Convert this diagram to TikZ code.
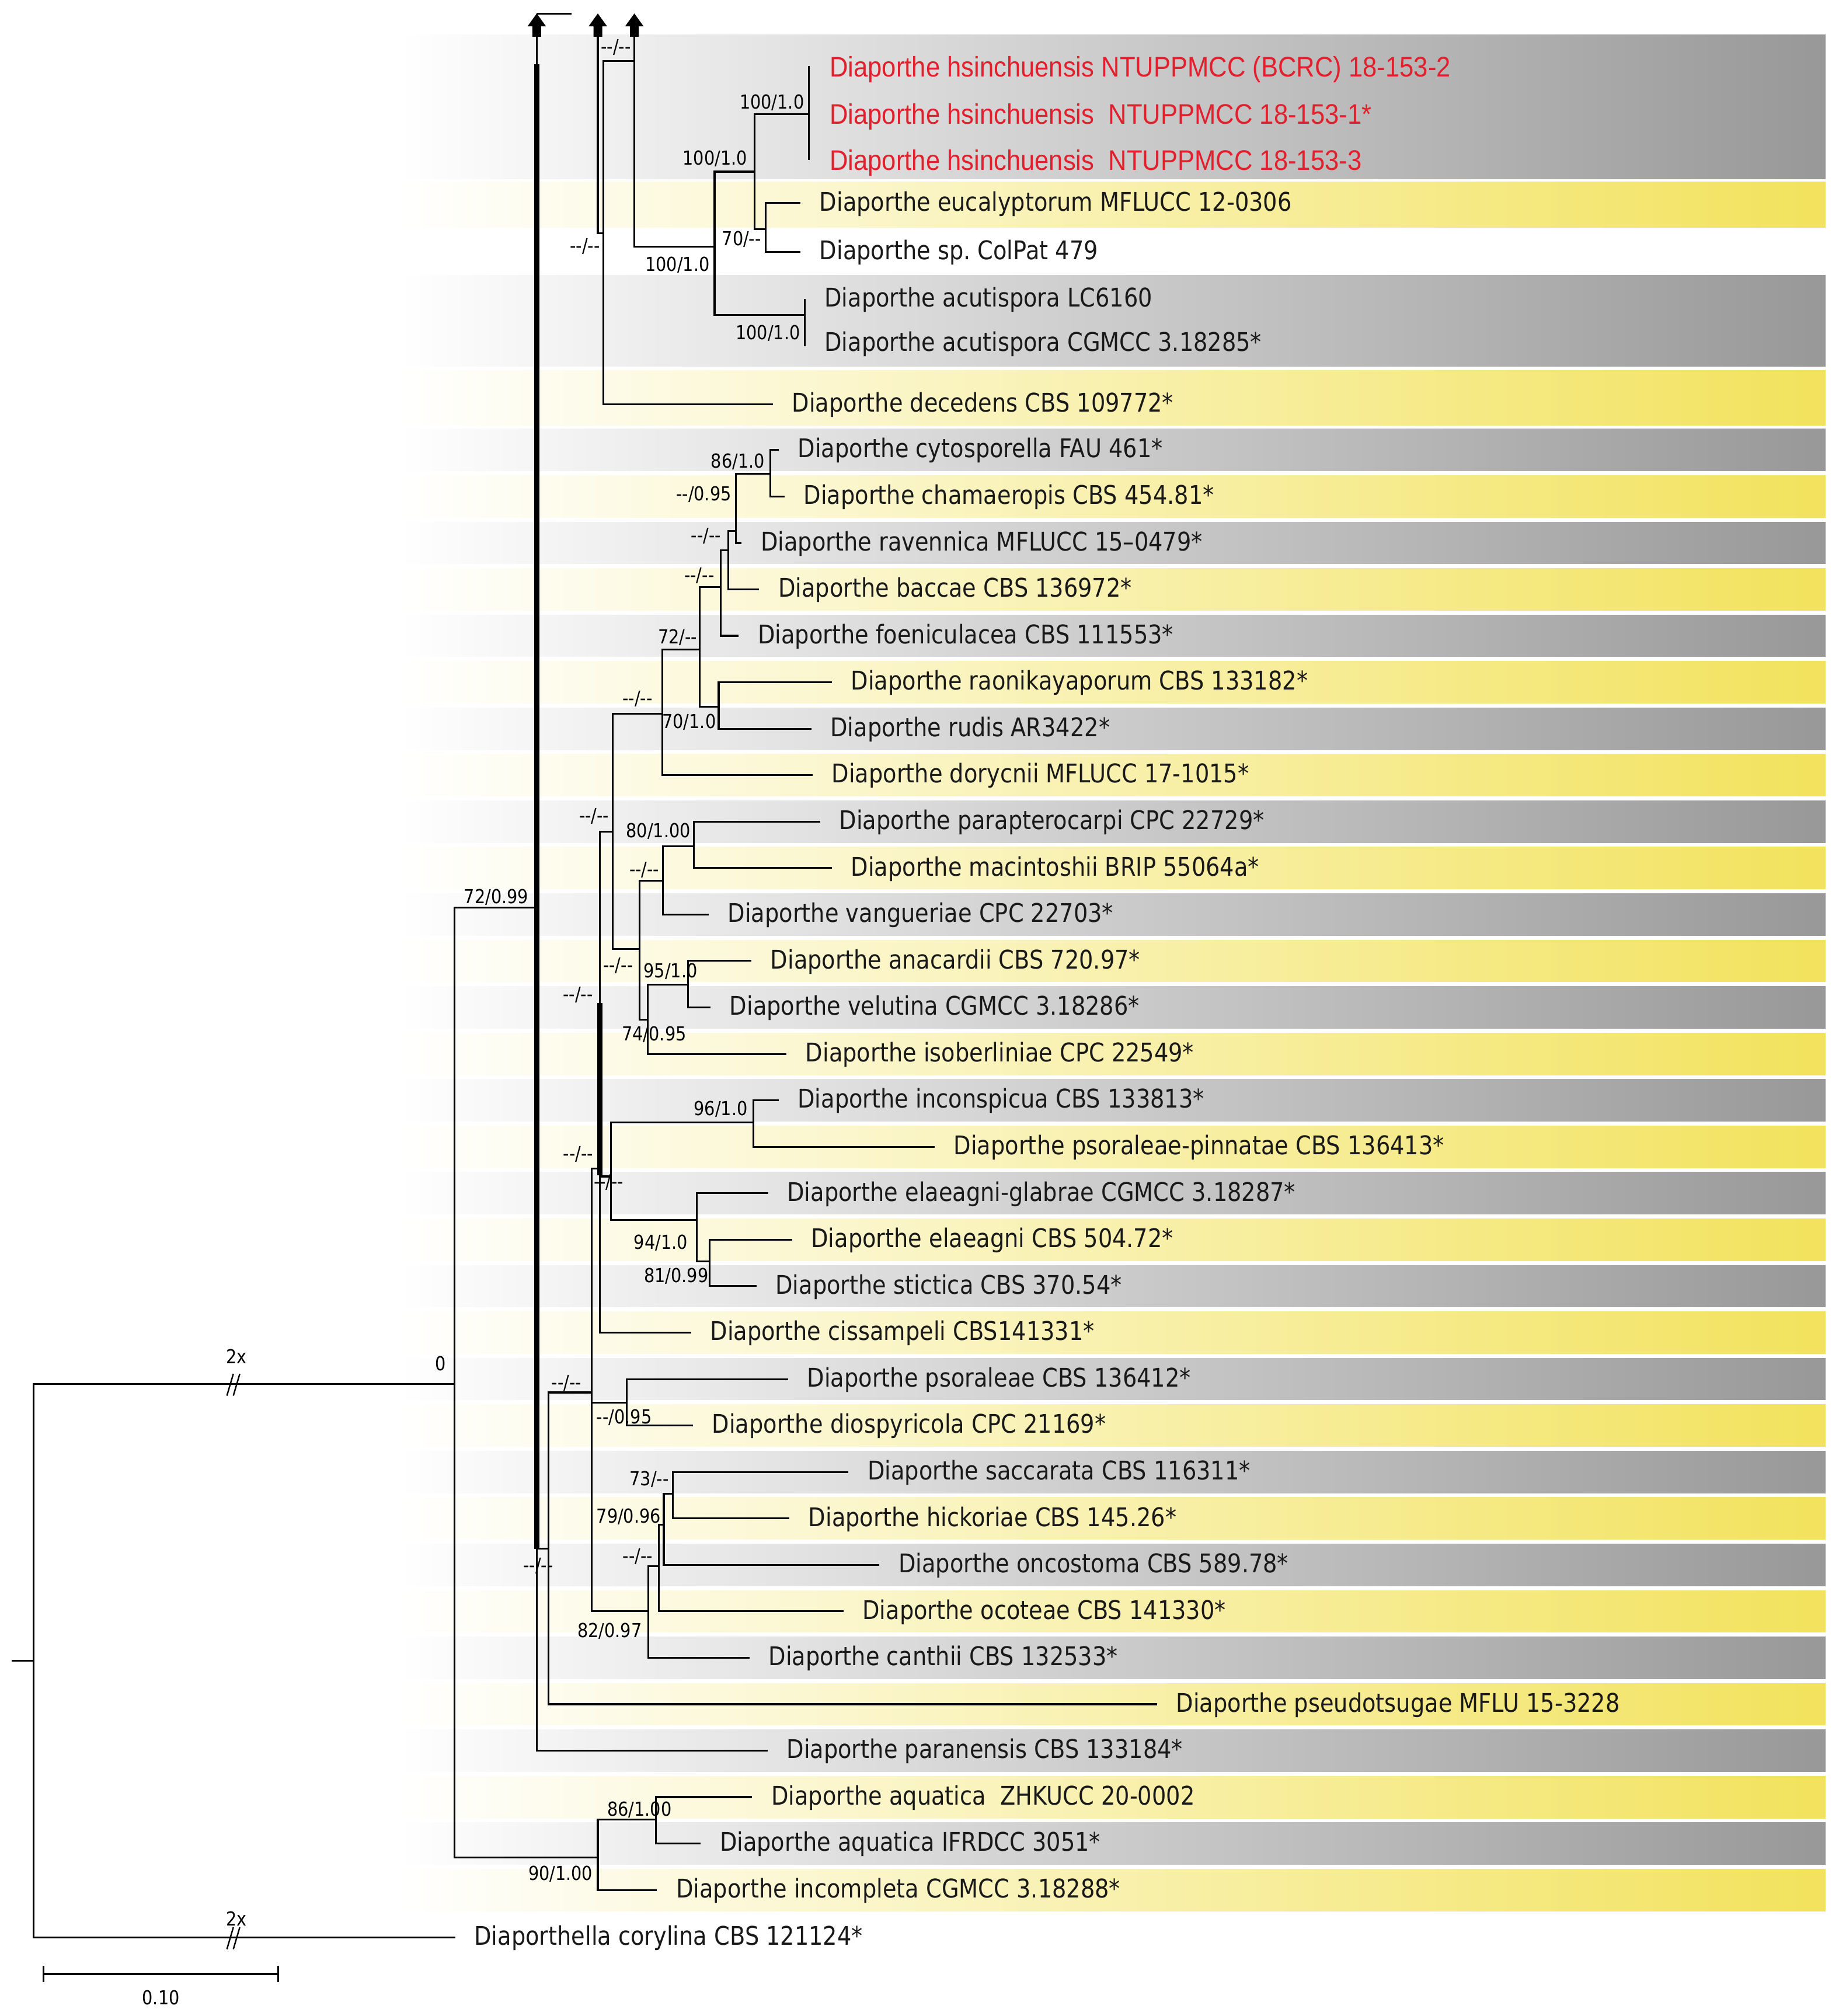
\documentclass[tikz,border=0pt]{standalone}
\usepackage{fontspec}
\newfontfamily\lblfont[FakeStretch=0.87]{DejaVu Sans}
\newfontfamily\supfont[FakeStretch=0.87]{DejaVu Sans}
\newfontfamily\redfont[FakeStretch=0.9]{Liberation Sans}
\newcommand{\dpair}{-{}-}
\definecolor{bandgray}{RGB}{152,152,152}
\definecolor{bandyel}{RGB}{242,226,92}
\definecolor{hsred}{RGB}{226,32,45}
\newcommand\bandG[2]{\shade[left color=white,right color=bandgray] (310,#1) rectangle (1420,#2);}
\newcommand\bandY[2]{\shade[left color=white,right color=bandyel] (310,#1) rectangle (1420,#2);}
\newcommand\upblock[1]{\fill (#1) -- ++(7.2,10) -- ++(-3.8,0) -- ++(0,8) -- ++(-6.8,0) -- ++(0,-8) -- ++(-3.8,0) -- cycle;}
\newcommand\leaf[4]{\coordinate (t#1) at (#2,#3); \path (t#1) ++(14.5,6) node[lbl] (l#1) {#4};}
\frenchspacing
\begin{document}
\begin{tikzpicture}[x=0.5pt,y=-0.5pt,
  br/.style={line width=0.7pt},
  thk/.style={line width=1.9pt},
  lbl/.style={font=\lblfont\fontsize{10}{12}\selectfont, text=black!90, anchor=base west, inner sep=0pt},
  hsl/.style={font=\redfont\fontsize{11}{13}\selectfont, text=hsred, anchor=base west, inner sep=0pt},
  sup/.style={font=\supfont\fontsize{7.5}{9}\selectfont, anchor=base, inner sep=0pt}]
\useasboundingbox (0,0) rectangle (1430,1568);
\fill[white] (0,0) rectangle (1430,1568);
% ---------------- bands
\bandG{27}{139}
\bandY{141.5}{177}
\bandG{214}{285}
\bandY{288}{331}
\foreach \i in {9,...,40}{
  \pgfmathsetmacro\ya{350+(\i-9)*36.13-16.3}
  \pgfmathsetmacro\yb{\ya+32.6}
  \ifodd\i\relax \bandG{\ya}{\yb}\else \bandY{\ya}{\yb}\fi
}
% ---------------- internal nodes
\coordinate (root) at (26,1291.5);
\coordinate (rstub) at (9,1291.5);
\coordinate (M) at (353.5,1076.5);
\coordinate (Sp) at (417.5,706);
\coordinate (spinetop) at (417.5,50);
\coordinate (spthk) at (417.5,1204.5);
\coordinate (P) at (426.7,1204.5);
\coordinate (A) at (460.3,1083);
\coordinate (B) at (466.5,909);
\coordinate (Bt1) at (466.5,780);
\coordinate (Bt2) at (466.5,914);
\coordinate (C) at (476.5,647);
\coordinate (N7) at (515.3,555);
\coordinate (N5) at (544.3,505.3);
\coordinate (N4) at (560.6,456.4);
\coordinate (N3) at (566.3,428.1);
\coordinate (N2) at (572.4,413.1);
\coordinate (N1) at (599.3,368.4);
\coordinate (N6) at (559,549.7);
\coordinate (D) at (497.4,738);
\coordinate (E) at (515.6,685);
\coordinate (F) at (539.8,658);
\coordinate (G) at (503.8,793);
\coordinate (H) at (535.3,766);
\coordinate (I) at (475.4,915);
\coordinate (K) at (586,873);
\coordinate (J) at (542,949);
\coordinate (L) at (552,981);
\coordinate (Q) at (487.3,1091);
\coordinate (R) at (504.2,1253);
\coordinate (Sx) at (512.5,1218);
\coordinate (T) at (516.3,1186);
\coordinate (U) at (523.2,1162);
\coordinate (Z) at (465,1444.5);
\coordinate (Y) at (510,1415);
% top part
\coordinate (ar1) at (417.5,10.5);
\coordinate (ar2) at (465,10.5);
\coordinate (ar3) at (493.4,10.5);
\coordinate (ar1s) at (417.5,28);
\coordinate (X2) at (465,28);
\coordinate (X3) at (493.4,28);
\coordinate (topend) at (444.4,10.5);
\coordinate (Dc) at (469.1,181.5);
\coordinate (Dctop) at (493.4,47.6);
\coordinate (V) at (555.8,191.9);
\coordinate (W) at (586.9,133.5);
\coordinate (X) at (595.4,178.3);
\coordinate (hsb) at (629.3,88.7);
\coordinate (hsb1) at (629.3,51.5);
\coordinate (hsb2) at (629.3,124.5);
\coordinate (acb) at (626,245.1);
\coordinate (acb1) at (626,232.6);
\coordinate (acb2) at (626,269.1);
% ---------------- leaves
\path (hsb1) ++(15.7,8) node[hsl] (l1) {Diaporthe hsinchuensis NTUPPMCC (BCRC) 18-153-2};
\path (hsb) ++(15.7,8) node[hsl] (l2) {Diaporthe hsinchuensis\ \ NTUPPMCC 18-153-1*};
\path (hsb2) ++(15.7,8) node[hsl] (l3) {Diaporthe hsinchuensis\ \ NTUPPMCC 18-153-3};
\leaf{4}{622.6}{158}{Diaporthe eucalyptorum MFLUCC 12-0306}
\leaf{5}{622.6}{196}{Diaporthe sp. ColPat 479}
\path (acb1) ++(15,6) node[lbl] (l6) {Diaporthe acutispora LC6160};
\path (acb2) ++(15,4) node[lbl] (l7) {Diaporthe acutispora CGMCC 3.18285*};
\leaf{8}{601.2}{314.5}{Diaporthe decedens CBS 109772*}
\leaf{9}{605.7}{350}{Diaporthe cytosporella FAU 461*}
\leaf{10}{610.2}{386.1}{Diaporthe chamaeropis CBS 454.81*}
\leaf{11}{576.9}{422.3}{Diaporthe ravennica MFLUCC 15–0479*}
\leaf{12}{590.5}{458.4}{Diaporthe baccae CBS 136972*}
\leaf{13}{574.6}{494.5}{Diaporthe foeniculacea CBS 111553*}
\leaf{14}{647}{530.7}{Diaporthe raonikayaporum CBS 133182*}
\leaf{15}{631}{566.8}{Diaporthe rudis AR3422*}
\leaf{16}{632}{602.9}{Diaporthe dorycnii MFLUCC 17-1015*}
\leaf{17}{638}{639}{Diaporthe parapterocarpi CPC 22729*}
\leaf{18}{647}{675.2}{Diaporthe macintoshii BRIP 55064a*}
\leaf{19}{551.2}{711.3}{Diaporthe vangueriae CPC 22703*}
\leaf{20}{584.5}{747.4}{Diaporthe anacardii CBS 720.97*}
\leaf{21}{552.7}{783.6}{Diaporthe velutina CGMCC 3.18286*}
\leaf{22}{611.7}{819.7}{Diaporthe isoberliniae CPC 22549*}
\leaf{23}{605.6}{855.8}{Diaporthe inconspicua CBS 133813*}
\leaf{24}{727}{891.9}{Diaporthe psoraleae-pinnatae CBS 136413*}
\leaf{25}{597.4}{928.1}{Diaporthe elaeagni-glabrae CGMCC 3.18287*}
\leaf{26}{616}{964.2}{Diaporthe elaeagni CBS 504.72*}
\leaf{27}{588.3}{1000.3}{Diaporthe stictica CBS 370.54*}
\leaf{28}{537.5}{1036.5}{Diaporthe cissampeli CBS141331*}
\leaf{29}{613}{1072.6}{Diaporthe psoraleae CBS 136412*}
\leaf{30}{539}{1108.7}{Diaporthe diospyricola CPC 21169*}
\leaf{31}{660}{1144.8}{Diaporthe saccarata CBS 116311*}
\leaf{32}{614}{1181}{Diaporthe hickoriae CBS 145.26*}
\leaf{33}{684}{1217.1}{Diaporthe oncostoma CBS 589.78*}
\leaf{34}{656}{1253.2}{Diaporthe ocoteae CBS 141330*}
\leaf{35}{583}{1289.4}{Diaporthe canthii CBS 132533*}
\leaf{36}{900}{1325.5}{Diaporthe pseudotsugae MFLU 15-3228}
\leaf{37}{597}{1361.6}{Diaporthe paranensis CBS 133184*}
\leaf{38}{585}{1397.7}{Diaporthe aquatica\ \ ZHKUCC 20-0002}
\leaf{39}{545}{1433.9}{Diaporthe aquatica IFRDCC 3051*}
\leaf{40}{511}{1470}{Diaporthe incompleta CGMCC 3.18288*}
\leaf{41}{354}{1507}{Diaporthella corylina CBS 121124*}
% ---------------- branches
\begin{scope}[br]
\draw (rstub) -- (root);
\draw (root) |- (M);
\draw (root) |- (t41);
\draw (M) |- (Sp);
\draw (M) |- (Z);
\draw (Sp) |- (P);
\draw (Sp) |- (t37);
\draw (P) |- (A);
\draw (P) |- (t36);
\draw (A) |- (B);
\draw (A) |- (Q);
\draw (A) |- (R);
\draw (B) |- (C);
\draw (B) |- (I);
\draw (B) |- (t28);
\draw (C) |- (N7);
\draw (C) |- (D);
\draw (N7) |- (N5);
\draw (N7) |- (t16);
\draw (N5) |- (N4);
\draw (N5) |- (N6);
\draw (N4) |- (N3);
\draw (N4) |- (t13);
\draw (N3) |- (N2);
\draw (N3) |- (t12);
\draw (N2) |- (N1);
\draw (N2) |- (t11);
\draw (N1) |- (t9);
\draw (N1) |- (t10);
\draw (N6) |- (t14);
\draw (N6) |- (t15);
\draw (D) |- (E);
\draw (D) |- (G);
\draw (E) |- (F);
\draw (E) |- (t19);
\draw (F) |- (t17);
\draw (F) |- (t18);
\draw (G) |- (H);
\draw (G) |- (t22);
\draw (H) |- (t20);
\draw (H) |- (t21);
\draw (I) |- (K);
\draw (I) |- (J);
\draw (K) |- (t23);
\draw (K) |- (t24);
\draw (J) |- (t25);
\draw (J) |- (L);
\draw (L) |- (t26);
\draw (L) |- (t27);
\draw (Q) |- (t29);
\draw (Q) |- (t30);
\draw (R) |- (Sx);
\draw (R) |- (t35);
\draw (Sx) |- (T);
\draw (Sx) |- (t34);
\draw (T) |- (U);
\draw (T) |- (t33);
\draw (U) |- (t31);
\draw (U) |- (t32);
\draw (Z) |- (Y);
\draw (Z) |- (t40);
\draw (Y) |- (t38);
\draw (Y) |- (t39);
% top part
\draw (ar1) -- (topend);
\draw (ar1s) -- (spinetop);
\draw (X2) |- (Dc);
\draw (Dc) |- (Dctop);
\draw (Dc) |- (t8);
\draw (X3) |- (V);
\draw (V) |- (W);
\draw (V) |- (acb);
\draw (W) |- (hsb);
\draw (W) |- (X);
\draw (X) |- (t4);
\draw (X) |- (t5);
\draw (hsb1) -- (hsb2);
\draw (acb1) -- (acb2);
\end{scope}
\draw[thk] (spinetop) -- (spthk);
\draw[thk] (Bt1) -- (Bt2);
\upblock{ar1}
\upblock{ar2}
\upblock{ar3}
% break marks
\coordinate (bk1) at (181,1076.5);
\coordinate (bk2) at (181,1507);
\draw[line width=0.55pt] (bk1) ++(-4.5,9) -- ++(5,-17) (bk1) ++(0.5,9) -- ++(5,-17);
\draw[line width=0.55pt] (bk2) ++(-4.5,9) -- ++(5,-17) (bk2) ++(0.5,9) -- ++(5,-17);
% scale bar
\coordinate (sb1) at (33.9,1535.3);
\coordinate (sb2) at (216.4,1535.3);
\draw[br] (sb1) -- (sb2);
\draw[br] (sb1) ++(0,-6.5) -- ++(0,13);
\draw[br] (sb2) ++(0,-6.5) -- ++(0,13);
\node[sup] (sbl) at (125.2,1559) {0.10};
% ---------------- support values
\node[sup] (s1) at (479,41.5) {\dpair/\dpair};
\node[sup] (s2) at (600.4,84.8) {100/1.0};
\node[sup] (s3) at (556.1,128.5) {100/1.0};
\node[sup] (s4) at (576.8,191.1) {70/\dpair};
\node[sup] (s5) at (455,196.5) {\dpair/\dpair};
\node[sup] (s6) at (526.9,211) {100/1.0};
\node[sup] (s7) at (597.3,264.2) {100/1.0};
\node[sup] (s8) at (573.9,364) {86/1.0};
\node[sup] (s9) at (547.4,389.4) {\dpair/0.95};
\node[sup] (s10) at (549.2,421.4) {\dpair/\dpair};
\node[sup] (s11) at (543.9,452.5) {\dpair/\dpair};
\node[sup] (s12) at (527,500.5) {72/\dpair};
\node[sup] (s13) at (536,566.5) {70/1.0};
\node[sup] (s14) at (495.9,548.3) {\dpair/\dpair};
\node[sup] (s15) at (462.1,639.5) {\dpair/\dpair};
\node[sup] (s16) at (512.1,651.5) {80/1.00};
\node[sup] (s17) at (501.2,681.5) {\dpair/\dpair};
\node[sup] (s18) at (480.8,756) {\dpair/\dpair};
\node[sup] (s19) at (521.6,760.5) {95/1.0};
\node[sup] (s20) at (449.5,778.5) {\dpair/\dpair};
\node[sup] (s21) at (508.8,809.5) {74/0.95};
\node[sup] (s22) at (560.6,867.5) {96/1.0};
\node[sup] (s23) at (449.7,902.5) {\dpair/\dpair};
\node[sup] (s24) at (473.5,924.5) {\dpair/\dpair};
\node[sup] (s25) at (514,971.5) {94/1.0};
\node[sup] (s26) at (526,997.5) {81/0.99};
\node[sup] (s27) at (440.6,1080.5) {\dpair/\dpair};
\node[sup] (s28) at (485.5,1107.5) {\dpair/0.95};
\node[sup] (s29) at (505,1155.5) {73/\dpair};
\node[sup] (s30) at (489,1184.5) {79/0.96};
\node[sup] (s31) at (496,1215.5) {\dpair/\dpair};
\node[sup] (s32) at (474.2,1273.5) {82/0.97};
\node[sup] (s33) at (418.7,1222.5) {\dpair/\dpair};
\node[sup] (s34) at (386,702.5) {72/0.99};
\node[sup] (s35) at (342.9,1066) {0};
\node[sup] (s36) at (497.4,1412.5) {86/1.00};
\node[sup] (s37) at (436,1462.5) {90/1.00};
\node[sup] (s38) at (183.8,1060.5) {2x};
\node[sup] (s39) at (183.8,1498) {2x};
\end{tikzpicture}
\end{document}
